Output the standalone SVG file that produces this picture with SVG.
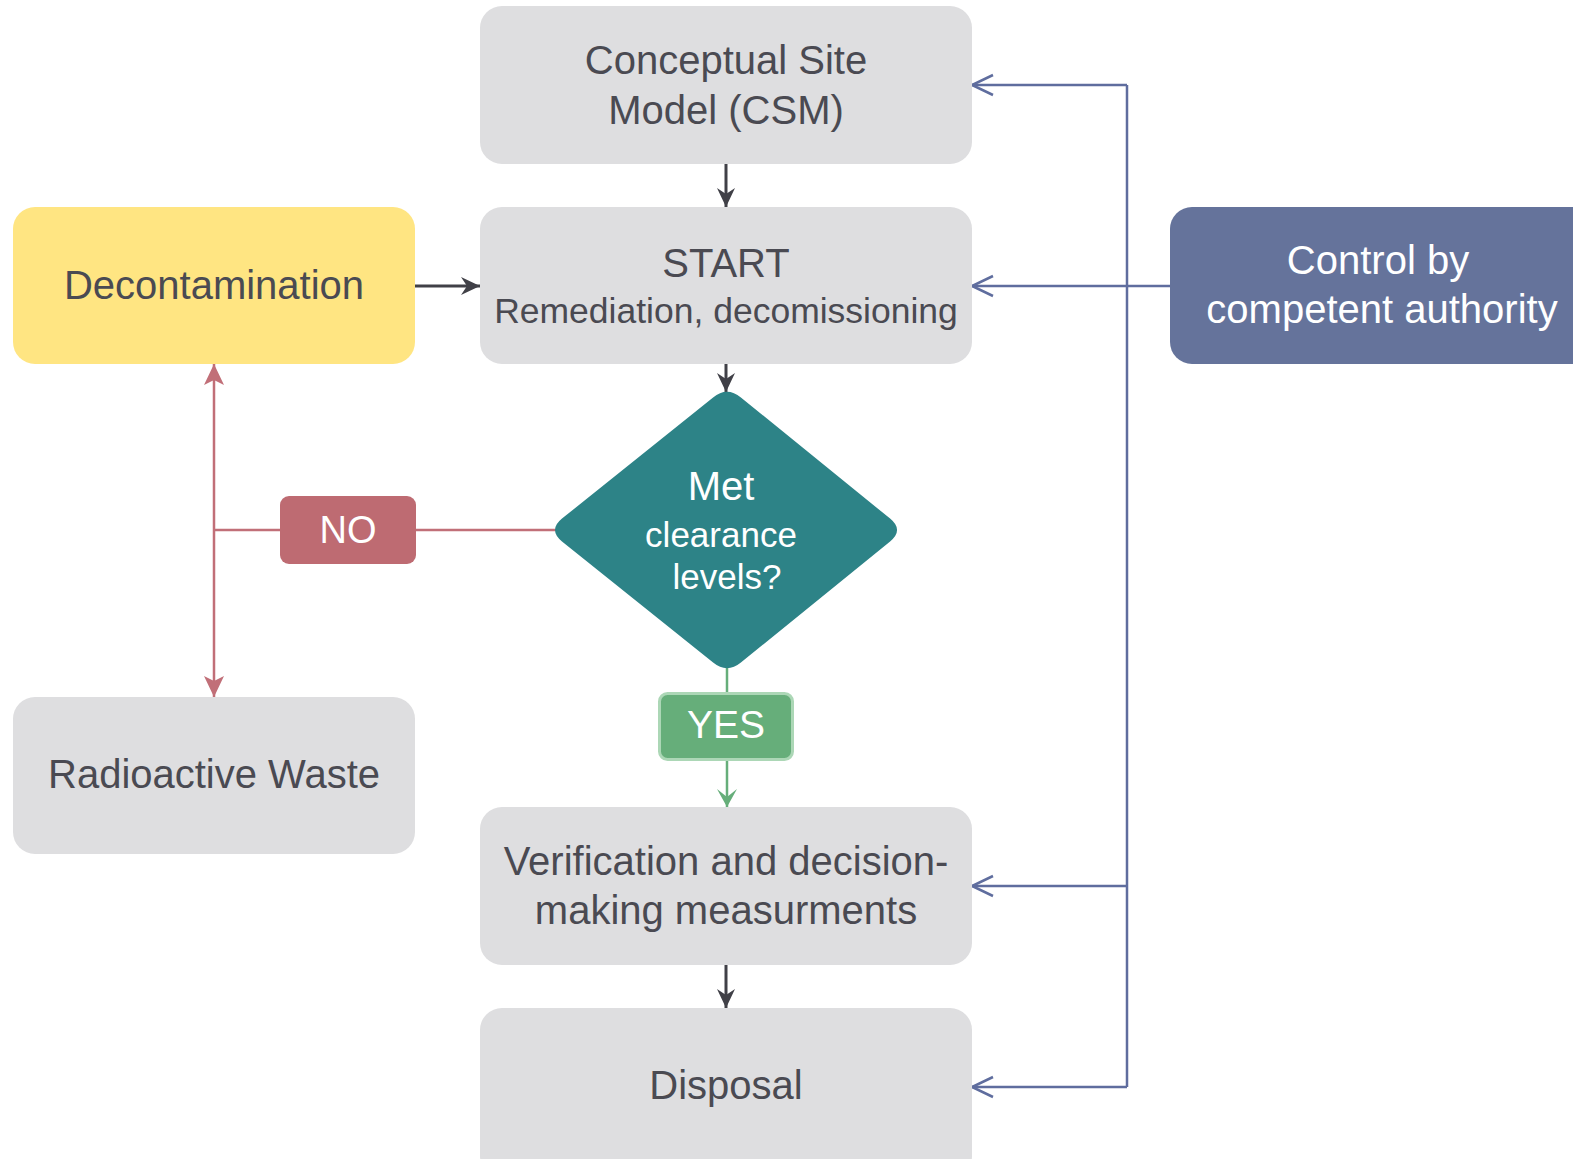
<svg xmlns="http://www.w3.org/2000/svg" width="1573" height="1159" viewBox="0 0 1573 1159">
<style>
text{font-family:"Liberation Sans",Arial,sans-serif;text-anchor:middle}
.g{fill:#dedee0}
.dt{fill:#4a4a52;font-size:40px}
.wt{fill:#ffffff}
.dk{stroke:#404047;stroke-width:3;fill:none}
.bl{stroke:#5f6d9e;stroke-width:2.5;fill:none}
.rd{stroke:#c16f78;stroke-width:2.5;fill:none}
.gr{stroke:#66ae7a;stroke-width:2.5;fill:none}
</style>
<defs>
<marker id="ad" viewBox="0 0 20 20" refX="20" refY="10" markerWidth="20" markerHeight="20" markerUnits="userSpaceOnUse" orient="auto"><path d="M20,10 L1,1 L7,10 L1,19 Z" fill="#404047"/></marker>
<marker id="ar" viewBox="0 0 22 22" refX="22" refY="11" markerWidth="22" markerHeight="22" markerUnits="userSpaceOnUse" orient="auto-start-reverse"><path d="M22,11 L1,1 L6,11 L1,21 Z" fill="#c16f78"/></marker>
<marker id="ag" viewBox="0 0 20 22" refX="19" refY="11" markerWidth="20" markerHeight="22" markerUnits="userSpaceOnUse" orient="auto"><path d="M19,11 L1,1 L9,11 L1,21 Z" fill="#66ae7a"/></marker>
<marker id="ab" viewBox="0 0 26 24" refX="23" refY="12" markerWidth="26" markerHeight="24" markerUnits="userSpaceOnUse" orient="auto"><path d="M2,2 L23,12 L2,22" fill="none" stroke="#5f6d9e" stroke-width="2.5"/></marker>
</defs>
<g id="connectors">
<path class="dk" d="M726,164 L726,207" marker-end="url(#ad)"/>
<path class="dk" d="M726,364 L726,392" marker-end="url(#ad)"/>
<path class="dk" d="M415,286 L480,286" marker-end="url(#ad)"/>
<path class="dk" d="M726,965 L726,1008" marker-end="url(#ad)"/>
<path class="bl" d="M1127,85 L1127,1087"/>
<path class="bl" d="M1127,85 L972,85" marker-end="url(#ab)"/>
<path class="bl" d="M1170,286 L972,286" marker-end="url(#ab)"/>
<path class="bl" d="M1127,886 L972,886" marker-end="url(#ab)"/>
<path class="bl" d="M1127,1087 L972,1087" marker-end="url(#ab)"/>
<path class="rd" d="M214,364 L214,697" marker-start="url(#ar)" marker-end="url(#ar)"/>
<path class="rd" d="M214,530 L280,530"/>
<path class="rd" d="M416,530 L558,530"/>
<path class="gr" d="M727,668 L727,693"/>
<path class="gr" d="M727,760 L727,807" marker-end="url(#ag)"/>
</g>
<g id="csm"><rect class="g" x="480" y="6" width="492" height="158" rx="22"/><text class="dt" x="726" y="74">Conceptual Site</text><text class="dt" x="726" y="124">Model (CSM)</text></g>
<g id="start"><rect class="g" x="480" y="207" width="492" height="157" rx="22"/><text class="dt" x="726" y="277">START</text><text class="dt" x="726" y="323" style="font-size:35.5px">Remediation, decomissioning</text></g>
<g id="decontamination"><rect x="13" y="207" width="402" height="157" rx="22" fill="#ffe582"/><text class="dt" x="214" y="299">Decontamination</text></g>
<g id="control"><rect x="1170" y="207" width="430" height="157" rx="22" fill="#65739b"/><text class="wt" x="1378" y="274" style="font-size:40px">Control by</text><text class="wt" x="1382" y="323" style="font-size:40px">competent authority</text></g>
<g id="decision"><path d="M713.1,397.4 Q727,386 740.9,397.4 L890.1,518.6 Q904,530 890.1,541.4 L740.9,662.6 Q727,674 713.1,662.6 L562,541.4 Q548,530 562,518.6 Z" fill="#2d8387"/><text class="wt" x="721" y="500" style="font-size:40px">Met</text><text class="wt" x="721" y="547" style="font-size:35px">clearance</text><text class="wt" x="727" y="589" style="font-size:35px">levels?</text></g>
<g id="no"><rect x="280" y="496" width="136" height="68" rx="9" fill="#be6b72"/><text class="wt" x="348" y="543" style="font-size:38px">NO</text></g>
<g id="yes"><rect x="659.5" y="693.5" width="133" height="66" rx="8" fill="#66ae7a" stroke="#acd7b6" stroke-width="3"/><text class="wt" x="726" y="738" style="font-size:39px">YES</text></g>
<g id="waste"><rect class="g" x="13" y="697" width="402" height="157" rx="22"/><text class="dt" x="214" y="788">Radioactive Waste</text></g>
<g id="verification"><rect class="g" x="480" y="807" width="492" height="158" rx="22"/><text class="dt" x="726" y="875">Verification and decision-</text><text class="dt" x="726" y="924">making measurments</text></g>
<g id="disposal"><rect class="g" x="480" y="1008" width="492" height="170" rx="22"/><text class="dt" x="726" y="1099">Disposal</text></g>
</svg>
